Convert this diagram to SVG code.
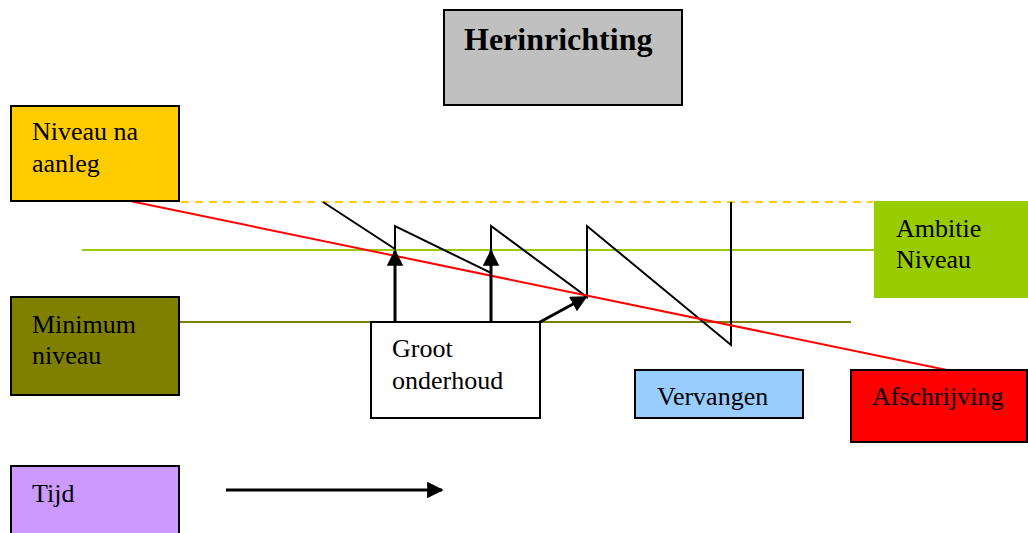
<svg xmlns="http://www.w3.org/2000/svg" width="1028" height="533" viewBox="0 0 1028 533">
<style>
  .box { stroke: #000; stroke-width: 2; }
  .lbl { font-family: "Liberation Serif", "Times New Roman", serif; font-size: 26px; fill: #000; }
  .title { font-family: "Liberation Serif", "Times New Roman", serif; font-size: 32px; font-weight: bold; fill: #000; }
  .saw { fill: none; stroke: #000; stroke-width: 2; }
  .arr { stroke: #000; stroke-width: 3; fill: none; }
</style>
<defs>
  <marker id="ah" viewBox="0 0 10 10" refX="9" refY="5" markerWidth="5.5" markerHeight="5.5" markerUnits="strokeWidth" orient="auto">
    <path d="M0,0 L10,5 L0,10 Z" fill="#000"/>
  </marker>
  <marker id="ah2" viewBox="0 0 10 10" refX="9" refY="5" markerWidth="7.5" markerHeight="7.5" markerUnits="strokeWidth" orient="auto">
    <path d="M0,0 L10,5 L0,10 Z" fill="#000"/>
  </marker>
</defs>
<rect width="1028" height="533" fill="#fff"/>

<g id="connectors">
  <line x1="181" y1="202" x2="873" y2="202" stroke="#FFCC00" stroke-width="2" stroke-dasharray="8,6"/>
  <line x1="82" y1="250" x2="875" y2="250" stroke="#99CC00" stroke-width="2"/>
  <line x1="180" y1="322" x2="851" y2="322" stroke="#808000" stroke-width="2"/>
  <polyline class="saw" points="323,202 395,249 395,226 491,273 491,226 587,297 587,226 731,345 731,202"/>
  <line x1="130" y1="201" x2="947" y2="370" stroke="#FF0000" stroke-width="2"/>
  <line class="arr" x1="395" y1="322" x2="395" y2="251" marker-end="url(#ah)"/>
  <line class="arr" x1="491" y1="322" x2="491" y2="251" marker-end="url(#ah)"/>
  <line class="arr" x1="540" y1="322" x2="586" y2="297" marker-end="url(#ah)"/>
  <line class="arr" x1="226" y1="490" x2="442" y2="490" marker-end="url(#ah)"/>
</g>

<g id="herinrichting">
  <rect class="box" x="444" y="10" width="238" height="95" fill="#C0C0C0"/>
  <text class="title" x="464" y="50">Herinrichting</text>
</g>

<g id="niveau-na-aanleg">
  <rect class="box" x="11" y="106" width="168" height="95" fill="#FFCC00"/>
  <text class="lbl" x="32" y="140">Niveau na</text>
  <text class="lbl" x="32" y="172">aanleg</text>
</g>

<g id="ambitie-niveau">
  <rect x="874" y="201" width="154" height="97" fill="#99CC00"/>
  <text class="lbl" x="896" y="237">Ambitie</text>
  <text class="lbl" x="896" y="268">Niveau</text>
</g>

<g id="minimum-niveau">
  <rect class="box" x="11" y="297" width="168" height="98" fill="#808000"/>
  <text class="lbl" x="32" y="333">Minimum</text>
  <text class="lbl" x="32" y="364">niveau</text>
</g>

<g id="groot-onderhoud">
  <rect class="box" x="371" y="322" width="169" height="96" fill="#FFFFFF"/>
  <text class="lbl" x="392" y="357">Groot</text>
  <text class="lbl" x="392" y="389">onderhoud</text>
</g>

<g id="vervangen">
  <rect class="box" x="635" y="370" width="168" height="48" fill="#99CCFF"/>
  <text class="lbl" x="657" y="405">Vervangen</text>
</g>

<g id="afschrijving">
  <rect class="box" x="851" y="370" width="176" height="72" fill="#FF0000"/>
  <text class="lbl" x="872" y="405">Afschrijving</text>
</g>

<g id="tijd">
  <rect class="box" x="11" y="466" width="168" height="80" fill="#CC99FF"/>
  <text class="lbl" x="32" y="502">Tijd</text>
</g>
</svg>
